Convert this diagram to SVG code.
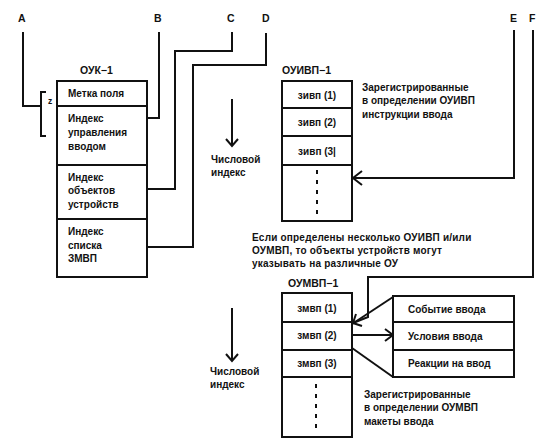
<svg xmlns="http://www.w3.org/2000/svg" width="558" height="446" viewBox="0 0 558 446">
<style>
text{font-family:"Liberation Sans",Arial,sans-serif;font-size:10px;font-weight:bold;fill:#111}
.lbl{font-size:10.5px}
.note{letter-spacing:0.2px}
.box{fill:#fff;stroke:#111;stroke-width:2}
.ln{fill:none;stroke:#111;stroke-width:2;stroke-linejoin:miter}
.dot{fill:none;stroke:#111;stroke-width:2;stroke-dasharray:4 6}
</style>
<rect width="558" height="446" fill="#fff"/>
<g id="labels">
<text class="lbl" x="18" y="22">A</text>
<text class="lbl" x="154" y="22">B</text>
<text class="lbl" x="227" y="22">C</text>
<text class="lbl" x="262" y="22">D</text>
<text class="lbl" x="510" y="22">E</text>
<text class="lbl" x="529" y="22">F</text>
</g>
<g id="connectors">
<path class="ln" d="M23,32 V106 H40"/>
<path class="ln" d="M46,92 H41 V136 H46"/>
<path class="ln" d="M159,32 V118 H147"/>
<path class="ln" d="M232,32 V51 H175 V189 H147"/>
<path class="ln" d="M266,33 V65 H193 V247 H147"/>
<path class="ln" d="M514,30 V178 H353"/>
<path class="ln" d="M362,171 L353,178 L362,185"/>
<path class="ln" d="M533,30 V277 H368 V317 L353,323"/>
<path class="ln" d="M356,314 L353,323 L362,326"/>
<path class="ln" d="M393,297 L352,324"/>
<path class="ln" d="M352,348 L393,377"/>
<path class="ln" d="M352,335 H393"/>
<path class="ln" d="M385,329 L393,335 L385,341"/>
<path class="ln" d="M232,99 V146"/>
<path class="ln" d="M226,139 L232,146 L238,139"/>
<path class="ln" d="M232,308 V361"/>
<path class="ln" d="M226,354 L232,361 L238,354"/>
</g>
<g id="ouk">
<text x="80" y="74" class="lbl">ОУК−1</text>
<rect class="box" x="57" y="81" width="90" height="196"/>
<path class="ln" d="M57,106 H147 M57,165 H147 M57,219 H147"/>
<text x="48" y="104" style="font-size:8.5px">z</text>
<text x="68" y="97">Метка поля</text>
<text x="68" y="122">Индекс</text>
<text x="68" y="136">управления</text>
<text x="68" y="150">вводом</text>
<text x="68" y="181">Индекс</text>
<text x="68" y="194">объектов</text>
<text x="68" y="208">устройств</text>
<text x="68" y="235">Индекс</text>
<text x="68" y="249">списка</text>
<text x="68" y="262">ЗМВП</text>
</g>
<g id="index1">
<text x="211" y="163">Числовой</text>
<text x="211" y="176">индекс</text>
</g>
<g id="ouivp">
<text x="282" y="74" class="lbl">ОУИВП−1</text>
<rect class="box" x="282" y="81" width="70" height="140"/>
<path class="ln" d="M282,108 H352 M282,136 H352 M282,165 H352"/>
<text x="317" y="99" text-anchor="middle">зивп (1)</text>
<text x="317" y="126" text-anchor="middle">зивп (2)</text>
<text x="317" y="155" text-anchor="middle">зивп (3|</text>
<path class="dot" d="M317,170 V216"/>
<text x="362" y="91">Зарегистрированные</text>
<text x="362" y="104">в определении ОУИВП</text>
<text x="362" y="118">инструкции ввода</text>
</g>
<g id="note">
<text class="note" x="252" y="241">Если определены несколько ОУИВП и/или</text>
<text class="note" x="252" y="254">ОУМВП, то объекты устройств могут</text>
<text class="note" x="252" y="267">указывать на различные ОУ</text>
</g>
<g id="oumvp">
<text x="288" y="287" class="lbl">ОУМВП−1</text>
<rect class="box" x="282" y="293" width="70" height="144"/>
<path class="ln" d="M282,322 H352 M282,350 H352 M282,377 H352"/>
<text x="317" y="312" text-anchor="middle">змвп (1)</text>
<text x="317" y="339" text-anchor="middle">змвп (2)</text>
<text x="317" y="367" text-anchor="middle">змвп (3)</text>
<path class="dot" d="M316,384 V434"/>
<text x="364" y="398">Зарегистрированные</text>
<text x="364" y="411">в определении ОУМВП</text>
<text x="364" y="425">макеты ввода</text>
</g>
<g id="layout">
<rect class="box" x="393" y="296" width="121" height="81"/>
<path class="ln" d="M393,322 H514 M393,350 H514"/>
<text x="408" y="313">Событие ввода</text>
<text x="408" y="340">Условия ввода</text>
<text x="408" y="367">Реакции на ввод</text>
</g>
<g id="index2">
<text x="210" y="375">Числовой</text>
<text x="210" y="388">индекс</text>
</g>
</svg>
